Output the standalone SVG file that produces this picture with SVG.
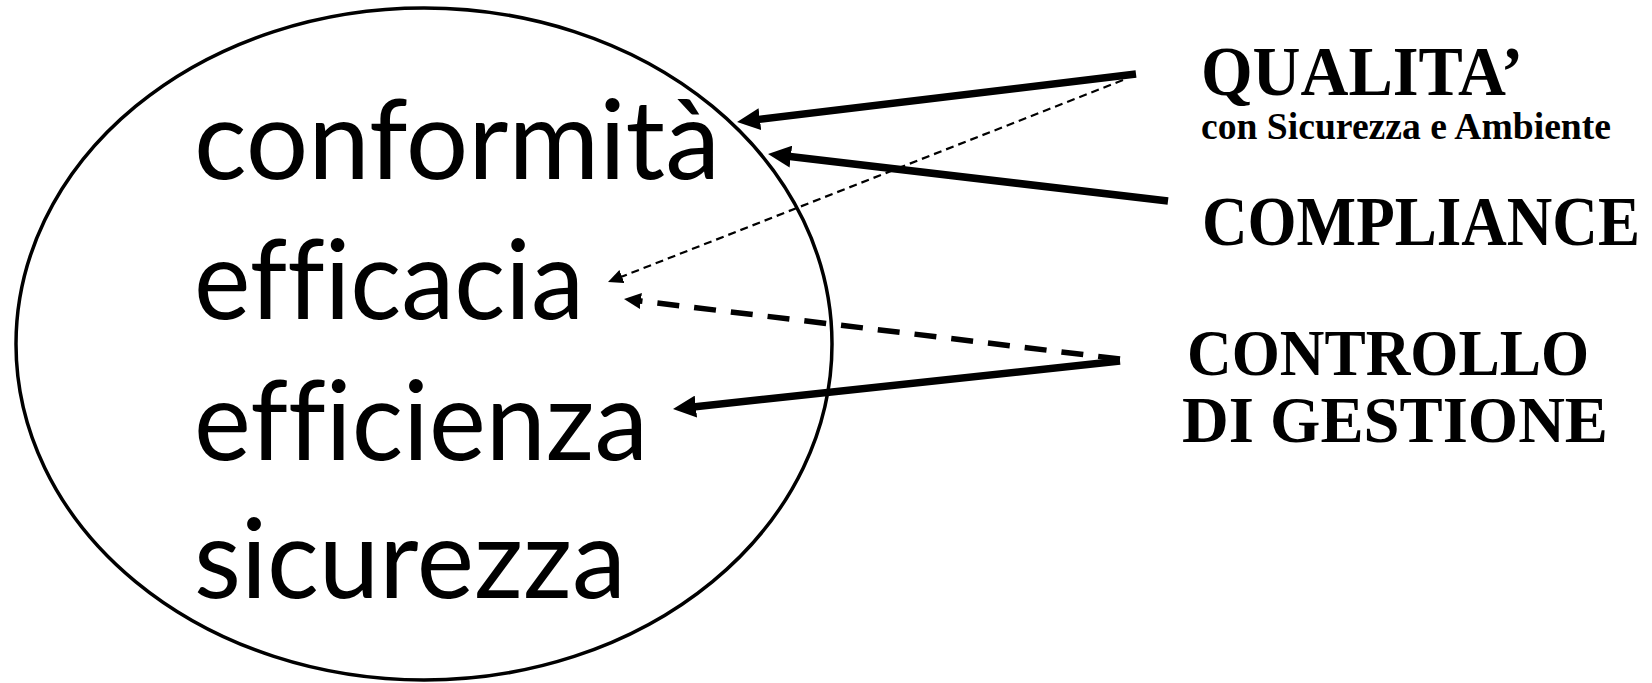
<svg xmlns="http://www.w3.org/2000/svg" width="1652" height="683" viewBox="0 0 1652 683">
<style>
.word{font-family:Lato,"Open Sans","Noto Sans",sans-serif;font-size:110px;fill:#000;font-variant-ligatures:none;font-feature-settings:"liga" 0}
.title{font-family:"Liberation Serif","Times New Roman",serif;font-weight:bold;fill:#000}
.thick{stroke:#000;stroke-width:7.5;fill:none}
.dash{stroke:#000;stroke-width:5.5;fill:none;stroke-dasharray:22 15}
.thin{stroke:#000;stroke-width:2.2;fill:none;stroke-dasharray:8 5}
</style>
<defs>
<marker id="big" markerUnits="userSpaceOnUse" markerWidth="24" markerHeight="22" refX="3" refY="11" orient="auto"><path d="M0,0 L23,11 L0,22 z" fill="#000"/></marker>
<marker id="mid" markerUnits="userSpaceOnUse" markerWidth="18" markerHeight="16" refX="2" refY="8" orient="auto"><path d="M0,0 L17,8 L0,16 z" fill="#000"/></marker>
<marker id="small" markerUnits="userSpaceOnUse" markerWidth="16" markerHeight="14" refX="2" refY="7" orient="auto"><path d="M0,0 L15,7 L0,14 z" fill="#000"/></marker>
</defs>
<g id="ellipse-node">
<ellipse cx="424" cy="344" rx="408" ry="336" fill="none" stroke="#000" stroke-width="3.5"/>
<text class="word" x="194" y="179" textLength="526" lengthAdjust="spacingAndGlyphs">conformità</text>
<text class="word" x="194" y="319" textLength="390" lengthAdjust="spacingAndGlyphs">efficacia</text>
<text class="word" x="194" y="460" textLength="454" lengthAdjust="spacingAndGlyphs">efficienza</text>
<text class="word" x="194" y="598" textLength="432" lengthAdjust="spacingAndGlyphs">sicurezza</text>
</g>
<g id="qualita">
<text class="title" x="1201" y="95" font-size="70" textLength="322" lengthAdjust="spacingAndGlyphs">QUALITA’</text>
<text class="title" x="1201" y="139" font-size="37" textLength="410" lengthAdjust="spacingAndGlyphs">con Sicurezza e Ambiente</text>
</g>
<g id="compliance">
<text class="title" transform="translate(1202,245) scale(1,1.1)" x="0" y="0" font-size="64" textLength="438" lengthAdjust="spacingAndGlyphs">COMPLIANCE</text>
</g>
<g id="controllo">
<text class="title" x="1187" y="375" font-size="65" textLength="402" lengthAdjust="spacingAndGlyphs">CONTROLLO</text>
<text class="title" x="1182" y="442" font-size="65" textLength="426" lengthAdjust="spacingAndGlyphs">DI GESTIONE</text>
</g>
<g id="connectors">
<line class="thick" x1="1136" y1="74" x2="756.9" y2="119.6" marker-end="url(#big)"/>
<line class="thick" x1="1168" y1="201" x2="787.9" y2="156.3" marker-end="url(#big)"/>
<line class="thin" x1="1123" y1="80" x2="620.1" y2="277.3" marker-end="url(#small)"/>
<line class="dash" x1="1120" y1="359" x2="638.9" y2="300.8" marker-end="url(#mid)"/>
<line class="thick" x1="1120" y1="361" x2="692.9" y2="406.9" marker-end="url(#big)"/>
</g>
</svg>
